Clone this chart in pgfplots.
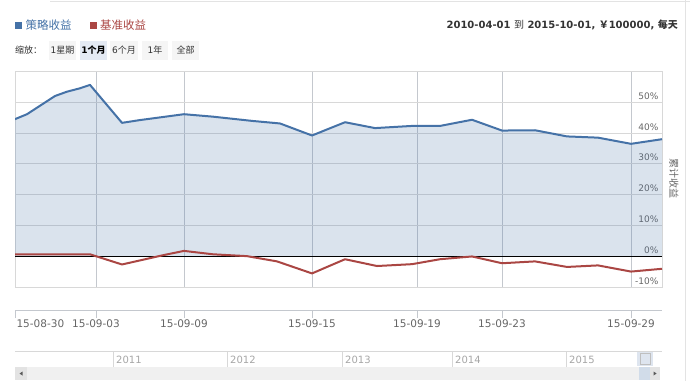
\documentclass[border=0pt]{standalone}
\usepackage{pgfplots}
\pgfplotsset{compat=1.18}
\usepackage{fontspec}
\setmainfont{DejaVu Sans}
\newfontfamily\cjk{Noto Sans CJK SC}
\definecolor{sblue}{HTML}{4572A7}
\definecolor{sred}{HTML}{AA4643}
\definecolor{gridc}{HTML}{D8D8D8}
\definecolor{vgrid}{HTML}{C4C8CE}
\definecolor{lab}{HTML}{666666}
\definecolor{btn}{HTML}{F5F5F5}
\definecolor{btnsel}{HTML}{E4EAF4}
\definecolor{dark}{HTML}{333333}

\pgfplotstableread{
x y
15 44.4
27 46.0
55 51.9
67 53.3
80 54.4
90 55.5
122 43.2
140 44.1
184 46.0
213 45.2
253 43.8
280 43.0
312 39.1
345 43.4
375 41.5
412 42.2
440 42.2
472 44.2
502 40.7
535 40.8
567 38.8
598 38.4
631 36.4
662 37.9
}\strategy

\pgfplotstableread{
x y
15 0.6
90 0.6
122 -2.7
163 0.3
184 1.7
213 0.6
247 0.0
277 -1.7
312 -5.6
345 -1.0
377 -3.2
412 -2.6
440 -1.0
472 -0.1
502 -2.3
535 -1.7
567 -3.5
598 -3.0
631 -5.0
662 -4.1
}\benchmark

\begin{document}
\begin{tikzpicture}
\useasboundingbox (0pt,0pt) rectangle (690pt,381pt);
\begin{scope}[x=1pt,y=1pt]
% frame lines
\draw[gray!22] (50,380) -- (690,380);
\draw[gray!22] (685,381) -- (685,0);

% legend
\fill[sblue] (15,352) rectangle (22,359);
\node[anchor=west, inner sep=0, text=sblue, font=\cjk\fontsize{11.5}{13}\selectfont] at (25.5,356) {策略收益};
\fill[sred] (90,352) rectangle (97,359);
\node[anchor=west, inner sep=0, text=sred, font=\cjk\fontsize{11.5}{13}\selectfont] at (100,356) {基准收益};

% range info
\node[anchor=east, inner sep=0, text=dark, font=\bfseries\fontsize{10}{11}\selectfont] at (678,356)
  {2010-04-01 {\cjk\mdseries 到} 2015-10-01, {\cjk ￥}100000, {\cjk 每天}};

% zoom buttons
\node[anchor=west, inner sep=0, text=dark, font=\cjk\fontsize{9}{10}\selectfont] at (15,331) {缩放：};
\fill[btn] (49,321) rectangle (76,340);
\fill[btnsel] (80,321) rectangle (107,340);
\fill[btn] (110,321) rectangle (138,340);
\fill[btn] (142,321) rectangle (168,340);
\fill[btn] (172,321) rectangle (199,340);
\node[inner sep=0, text=dark, font=\fontsize{9}{10}\selectfont] at (62.5,331) {1{\cjk 星期}};
\node[inner sep=0, text=black, font=\bfseries\fontsize{9}{10}\selectfont] at (93.5,331) {1{\cjk\bfseries 个月}};
\node[inner sep=0, text=dark, font=\fontsize{9}{10}\selectfont] at (124,331) {6{\cjk 个月}};
\node[inner sep=0, text=dark, font=\fontsize{9}{10}\selectfont] at (155,331) {1{\cjk 年}};
\node[inner sep=0, text=dark, font=\cjk\fontsize{9}{10}\selectfont] at (185.5,331) {全部};

% y axis title
\node[rotate=-90, inner sep=0, text=lab, font=\cjk\fontsize{10}{11}\selectfont] at (674,203) {累计收益};

% navigator handle
\fill[sblue!18] (637,15) rectangle (653,30);
\draw[gray!50] (640,17) rectangle (650,28);

% scrollbar
\fill[gray!12] (15,1) rectangle (660,14);
\fill[gray!22] (15,1) rectangle (27,14);
\fill[gray!22] (650,1) rectangle (660,14);
\fill[sblue!25] (639,1) rectangle (650,14);
\fill[gray!70!black] (19.5,7.5) -- (22.5,9.5) -- (22.5,5.5) -- cycle;
\fill[gray!70!black] (656.5,7.5) -- (653.5,9.5) -- (653.5,5.5) -- cycle;
\end{scope}

% main plot
\begin{axis}[
  at={(15pt,94pt)}, anchor=south west, scale only axis,
  width=647pt, height=216pt,
  xmin=15, xmax=662, ymin=-10, ymax=60,
  xtick={96,184,312,417,502,631}, xticklabels={},
  ytick={-10,0,10,20,30,40,50},
  yticklabels={-10\%,0\%,10\%,20\%,30\%,40\%,50\%},
  yticklabel pos=right,
  yticklabel style={anchor=south east, yshift=-1pt, text=lab, font=\fontsize{9}{10}\selectfont},
  major tick length=0pt,
  xmajorgrids, ymajorgrids,
  x grid style={vgrid}, y grid style={gridc},
  axis line style={gridc},
  /pgf/number format/assume math mode=true,
]
\addplot[draw=none, fill=sblue, fill opacity=0.2] coordinates {
 (15,0) (15,44.4) (27,46.0) (55,51.9) (67,53.3) (80,54.4) (90,55.5) (122,43.2) (140,44.1)
 (184,46.0) (213,45.2) (253,43.8) (280,43.0) (312,39.1) (345,43.4) (375,41.5) (412,42.2)
 (440,42.2) (472,44.2) (502,40.7) (535,40.8) (567,38.8) (598,38.4) (631,36.4) (662,37.9) (662,0)
} -- cycle;
\addplot[black, line width=1pt] coordinates {(15,0) (662,0)};
\addplot[sblue, line width=2pt, line join=round] table[x=x, y=y] {\strategy};
\addplot[sred, line width=2pt, line join=round] table[x=x, y=y] {\benchmark};
\end{axis}

% x axis (offset below the plot)
\begin{axis}[
  at={(15pt,71pt)}, anchor=south west, scale only axis,
  width=647pt, height=5pt,
  xmin=15, xmax=662, ymin=0, ymax=1,
  hide y axis, axis x line*=bottom,
  x axis line style={vgrid},
  xtick={96,184,312,417,502,631},
  xticklabels={15-09-03,15-09-09,15-09-15,15-09-19,15-09-23,15-09-29},
  extra x ticks={15}, extra x tick labels={15-08-30},
  extra x tick style={xticklabel style={anchor=north west, xshift=-2pt}},
  tick align=outside, major tick length=8pt, tick style={vgrid},
  xticklabel style={text=lab, font=\fontsize{10.5}{12}\selectfont, yshift=2pt},
]
\end{axis}

% navigator
\begin{axis}[
  at={(15pt,14pt)}, anchor=south west, scale only axis,
  width=647pt, height=16pt,
  xmin=15, xmax=662, ymin=0, ymax=1,
  hide y axis, axis x line*=top,
  x axis line style={gridc},
  xtick={113,227,342,452,566}, xticklabels={},
  major tick length=0pt,
  xmajorgrids, x grid style={gridc},
  clip=false,
]
\node[anchor=west, inner sep=0, text=gray!70, font=\fontsize{10}{11}\selectfont] at (axis cs:116,0.45) {2011};
\node[anchor=west, inner sep=0, text=gray!70, font=\fontsize{10}{11}\selectfont] at (axis cs:230,0.45) {2012};
\node[anchor=west, inner sep=0, text=gray!70, font=\fontsize{10}{11}\selectfont] at (axis cs:345,0.45) {2013};
\node[anchor=west, inner sep=0, text=gray!70, font=\fontsize{10}{11}\selectfont] at (axis cs:455,0.45) {2014};
\node[anchor=west, inner sep=0, text=gray!70, font=\fontsize{10}{11}\selectfont] at (axis cs:569,0.45) {2015};
\end{axis}
\end{tikzpicture}
\end{document}
